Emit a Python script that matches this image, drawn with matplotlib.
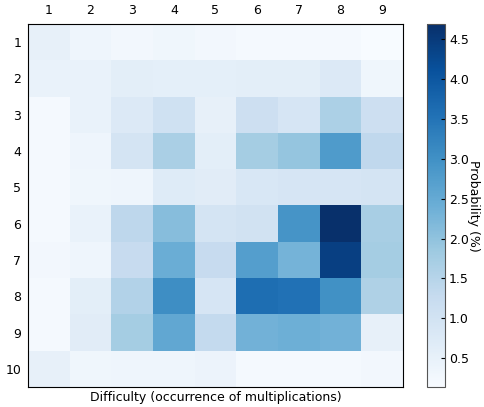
import numpy as np
import matplotlib
matplotlib.use("Agg")
import matplotlib.pyplot as plt

# probability (%) per cell, rows 1..10, columns 1..9
filas = [1, 2, 3, 4, 5, 6, 7, 8, 9, 10]
columnas = [1, 2, 3, 4, 5, 6, 7, 8, 9]
prob = np.array([
    [0.50, 0.35, 0.25, 0.30, 0.25, 0.20, 0.20, 0.20, 0.15],
    [0.45, 0.45, 0.60, 0.55, 0.55, 0.60, 0.60, 0.75, 0.30],
    [0.20, 0.45, 0.75, 1.05, 0.50, 1.10, 0.90, 1.65, 1.10],
    [0.20, 0.35, 0.95, 1.68, 0.60, 1.75, 1.95, 2.80, 1.35],
    [0.20, 0.30, 0.35, 0.70, 0.65, 0.85, 0.90, 0.90, 0.95],
    [0.20, 0.45, 1.40, 2.10, 0.95, 1.00, 2.92, 4.69, 1.70],
    [0.25, 0.35, 1.25, 2.42, 1.25, 2.73, 2.30, 4.42, 1.75],
    [0.20, 0.60, 1.55, 3.05, 0.90, 3.60, 3.55, 3.00, 1.60],
    [0.20, 0.65, 1.75, 2.55, 1.30, 2.33, 2.38, 2.33, 0.50],
    [0.50, 0.30, 0.35, 0.35, 0.40, 0.20, 0.20, 0.20, 0.25],
])
cbar_ticks = [0.5, 1.0, 1.5, 2.0, 2.5, 3.0, 3.5, 4.0, 4.5]

fig = plt.figure(figsize=(4.84, 4.07), dpi=100)
ax = fig.add_axes([28/484, 1 - 387/407, 375/484, 363/407])
cax = fig.add_axes([427/484, 1 - 387/407, 18/484, 363/407])

im = ax.imshow(prob, cmap="Blues", vmin=0.14, vmax=4.69, aspect="auto",
               interpolation="nearest")
ax.set_xticks(np.arange(len(columnas)))
ax.set_xticklabels(columnas)
ax.set_yticks(np.arange(len(filas)))
ax.set_yticklabels(filas)
ax.xaxis.tick_top()
ax.tick_params(direction="in", length=0, labelsize=9, pad=5)
ax.set_xlabel("Difficulty (occurrence of multiplications)", fontsize=9, labelpad=3)

cb = fig.colorbar(im, cax=cax, ticks=cbar_ticks)
cb.ax.tick_params(direction="in", length=3, labelsize=9, pad=3)
cb.outline.set_edgecolor("#555555")
cb.set_label("Probability (%)", rotation=270, labelpad=8, fontsize=9)

fig.savefig("out.png", dpi=100)
